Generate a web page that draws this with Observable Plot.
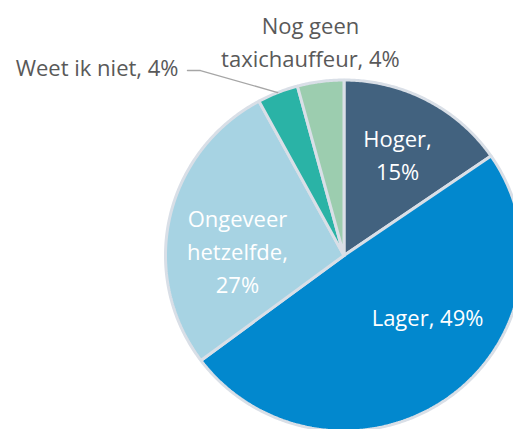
<!DOCTYPE html>
<html><head><meta charset="utf-8">
<script src="https://cdn.jsdelivr.net/npm/d3@7"></script>
<script src="https://cdn.jsdelivr.net/npm/@observablehq/plot@0.6"></script>
<style>html,body{margin:0;background:#fff;overflow:hidden} svg{overflow:hidden;display:block}</style>
</head><body><div id="chart"></div>
<script>
// ---- data ----
const categories = ["Hoger", "Lager", "Ongeveer hetzelfde", "Weet ik niet", "Nog geen taxichauffeur"];
const shares = [15.4, 49.4, 27.3, 3.7, 4.2];          // percent, clockwise from 12 o'clock
const labelNames = ["Hoger", "Lager", "Ongeveer\nhetzelfde", "Weet ik niet", "Nog geen\ntaxichauffeur"];

// ---- style / layout ----
const colors = ["#42627F", "#0288CE", "#A7D3E3", "#2AB3A6", "#9CCDAF"];
const borderColor = "#D9DFE7";
const W = 513, H = 429, CX = 343.5, CY = 255, RX = 178.5, RY = 175.5;
const FONT = "'Open Sans', 'Noto Sans', sans-serif";
const FS = 22;
// label separators and positions (in pie-radius units, relative to centre)
const labelLayout = [
  {sep: "\n", x: 0.300, y: 0.583, inside: true},
  {sep: " ",  x: 0.468, y: -0.340, inside: true},
  {sep: "\n", x: -0.597, y: 0.037, inside: true},
  {sep: " ",  x: -0.927, y: 1.084, inside: false, anchor: "end", leader: true},
  {sep: " ",  x: -0.188, y: 1.229, inside: false}
];

const pie = d3.pie().sort(null).value(d => d)(shares);
const polyPoints = [];
pie.forEach((p, i) => {
  const key = categories[i];
  polyPoints.push({key, x: 0, y: 0});
  const n = Math.max(4, Math.ceil((p.endAngle - p.startAngle) / 0.01));
  for (let k = 0; k <= n; k++) {
    const a = p.startAngle + (p.endAngle - p.startAngle) * k / n;
    polyPoints.push({key, x: Math.sin(a), y: Math.cos(a)});
  }
  polyPoints.push({key, x: 0, y: 0});
});

const labels = categories.map((c, i) => ({
  key: c,
  text: labelNames[i] + "," + labelLayout[i].sep + Math.round(shares[i]) + "%",
  ...labelLayout[i]
}));

// leader line for "Weet ik niet": from label end to slice's outer mid-point
const leader = [];
labels.forEach((l, i) => {
  if (!l.leader) return;
  const mid = (pie[i].startAngle + pie[i].endAngle) / 2;
  const y0 = l.y - 0.03;
  leader.push({x: l.x + 0.050, y: y0});
  leader.push({x: l.x + 0.123, y: y0});
  leader.push({x: Math.sin(mid), y: Math.cos(mid)});
});

const chart = Plot.plot({
  width: W, height: H,
  style: {fontFamily: FONT, background: "#fff"},
  x: {domain: [-1, 1], range: [CX - RX, CX + RX], axis: null},
  y: {domain: [-1, 1], range: [CY + RY, CY - RY], axis: null},
  color: {domain: categories, range: colors},
  marks: [
    Plot.line(polyPoints, {x: "x", y: "y", z: "key", fill: "key", stroke: borderColor, strokeWidth: 3, strokeLinejoin: "miter", curve: "linear"}),
    Plot.line(leader, {x: "x", y: "y", stroke: "#A6A6A6", strokeWidth: 1.3, curve: "linear"}),
    Plot.text(labels.filter(d => d.inside), {x: "x", y: "y", text: "text", fill: "#fff", fontSize: FS, lineHeight: 1.5, textAnchor: "middle"}),
    Plot.text(labels.filter(d => !d.inside && d.anchor === "end"), {x: "x", y: "y", text: "text", fill: "#595959", fontSize: FS, lineHeight: 1.5, textAnchor: "end"}),
    Plot.text(labels.filter(d => !d.inside && d.anchor !== "end"), {x: "x", y: "y", text: "text", fill: "#595959", fontSize: FS, lineHeight: 1.5, textAnchor: "middle"})
  ]
});
document.getElementById("chart").append(chart);
</script>
</body></html>
